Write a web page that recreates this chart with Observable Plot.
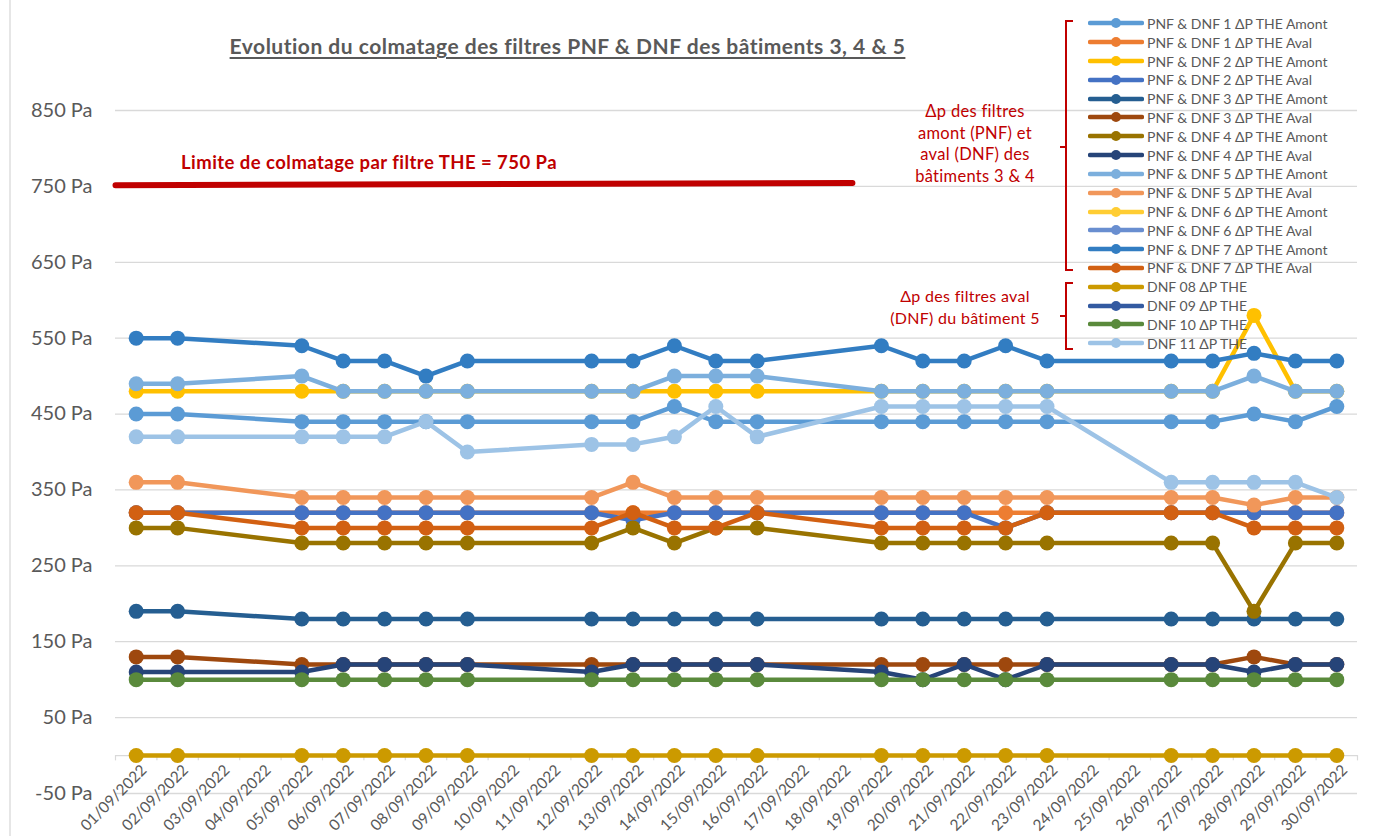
<!DOCTYPE html>
<html lang="fr">
<head>
<meta charset="utf-8">
<script src="https://cdn.jsdelivr.net/npm/d3@7"></script>
<script src="https://cdn.jsdelivr.net/npm/@observablehq/plot@0.6"></script>
<style>
  html, body { margin: 0; padding: 0; background: #fff; }
  #wrap { position: relative; width: 1377px; height: 836px; overflow: hidden; font-family: Lato, "Open Sans", sans-serif; }
  #wrap > svg.plot { position: absolute; left: 0; top: 0; }
  .abs { position: absolute; white-space: nowrap; }
  #title { left: 0; width: 1135px; top: 33px; text-align: center; font-size: 21px; letter-spacing: 0.5px; font-weight: bold; color: #595959; text-decoration: underline; text-underline-offset: 3px; }
  #limitText { left: 181px; top: 151px; font-size: 18.5px; letter-spacing: 0.45px; font-weight: bold; color: #C00000; }
  .note { color: #C00000; text-align: center; }
  #note1 { left: 875px; width: 200px; top: 101px; font-size: 16.5px; letter-spacing: 0.3px; line-height: 21.5px; }
  #note2 { left: 855px; width: 220px; top: 285px; font-size: 16px; letter-spacing: 0.3px; line-height: 22px; }
  #legend { left: 1088px; top: 14px; }
  .lrow { position: relative; height: 18.82px; display: flex; align-items: center; font-size: 14px; color: #595959; }
  .lrow svg { width: 56px; height: 14px; margin-right: 3px; flex: none; }
</style>
</head>
<body>
<div id="wrap"></div>
<script>
// ---------- data ----------
const days = [1, 2, 5, 6, 7, 8, 9, 12, 13, 14, 15, 16, 19, 20, 21, 22, 23, 26, 27, 28, 29, 30];

const dateLabels = ["01/09/2022","02/09/2022","03/09/2022","04/09/2022","05/09/2022","06/09/2022","07/09/2022","08/09/2022","09/09/2022","10/09/2022",
  "11/09/2022","12/09/2022","13/09/2022","14/09/2022","15/09/2022","16/09/2022","17/09/2022","18/09/2022","19/09/2022","20/09/2022",
  "21/09/2022","22/09/2022","23/09/2022","24/09/2022","25/09/2022","26/09/2022","27/09/2022","28/09/2022","29/09/2022","30/09/2022"];

const yTicks = [-50, 50, 150, 250, 350, 450, 550, 650, 750, 850];

const seriesNames = [
  "PNF & DNF 1 ΔP THE Amont", "PNF & DNF 1 ΔP THE Aval",
  "PNF & DNF 2 ΔP THE Amont", "PNF & DNF 2 ΔP THE Aval",
  "PNF & DNF 3 ΔP THE Amont", "PNF & DNF 3 ΔP THE Aval",
  "PNF & DNF 4 ΔP THE Amont", "PNF & DNF 4 ΔP THE Aval",
  "PNF & DNF 5 ΔP THE Amont", "PNF & DNF 5 ΔP THE Aval",
  "PNF & DNF 6 ΔP THE Amont", "PNF & DNF 6 ΔP THE Aval",
  "PNF & DNF 7 ΔP THE Amont", "PNF & DNF 7 ΔP THE Aval",
  "DNF 08 ΔP THE", "DNF 09 ΔP THE", "DNF 10 ΔP THE", "DNF 11 ΔP THE"
];

const seriesColors = [
  "#5B9BD5", "#ED7D31", "#FFC000", "#4472C4", "#255E91", "#9E480E",
  "#997300", "#264478", "#7CAFDD", "#F1975A", "#FFCD33", "#698ED0",
  "#327DC2", "#D26012", "#CC9A00", "#335AA1", "#5A8A3C", "#9DC3E6"
];

const pnf1Amont = [450,450,440,440,440,440,440,440,440,460,440,440,440,440,440,440,440,440,440,450,440,460];
const pnf1Aval  = [320,320,320,320,320,320,320,320,320,320,320,320,320,320,320,320,320,320,320,320,320,320];
const pnf2Amont = [480,480,480,480,480,480,480,480,480,480,480,480,480,480,480,480,480,480,480,580,480,480];
const pnf2Aval  = [320,320,320,320,320,320,320,320,310,320,320,320,320,320,320,300,320,320,320,320,320,320];
const pnf3Amont = [190,190,180,180,180,180,180,180,180,180,180,180,180,180,180,180,180,180,180,180,180,180];
const pnf3Aval  = [130,130,120,120,120,120,120,120,120,120,120,120,120,120,120,120,120,120,120,130,120,120];
const pnf4Amont = [300,300,280,280,280,280,280,280,300,280,300,300,280,280,280,280,280,280,280,190,280,280];
const pnf4Aval  = [110,110,110,120,120,120,120,110,120,120,120,120,110,100,120,100,120,120,120,110,120,120];
const pnf5Amont = [490,490,500,480,480,480,480,480,480,500,500,500,480,480,480,480,480,480,480,500,480,480];
const pnf5Aval  = [360,360,340,340,340,340,340,340,360,340,340,340,340,340,340,340,340,340,340,330,340,340];
const pnf6Amont = [];
const pnf6Aval  = [];
const pnf7Amont = [550,550,540,520,520,500,520,520,520,540,520,520,540,520,520,540,520,520,520,530,520,520];
const pnf7Aval  = [320,320,300,300,300,300,300,300,320,300,300,320,300,300,300,300,320,320,320,300,300,300];
const dnf08     = [0,0,0,0,0,0,0,0,0,0,0,0,0,0,0,0,0,0,0,0,0,0];
const dnf09     = [];
const dnf10     = [100,100,100,100,100,100,100,100,100,100,100,100,100,100,100,100,100,100,100,100,100,100];
const dnf11     = [420,420,420,420,420,440,400,410,410,420,460,420,460,460,460,460,460,360,360,360,360,340];

const seriesValues = [pnf1Amont, pnf1Aval, pnf2Amont, pnf2Aval, pnf3Amont, pnf3Aval, pnf4Amont, pnf4Aval,
  pnf5Amont, pnf5Aval, pnf6Amont, pnf6Aval, pnf7Amont, pnf7Aval, dnf08, dnf09, dnf10, dnf11];

// limit line (annotation drawn by hand in the original)
const limitX = [0.5, 18.3];
const limitY = [751.5, 754.5];

// ---------- build ----------
const dayIdx = d3.range(1, 31);
const bounds = d3.range(0.5, 31, 1);
const limitRows = limitX.map((x, i) => ({x, y: limitY[i]}));

const marks = [
  Plot.gridY(yTicks, {stroke: "#D9D9D9", strokeOpacity: 1, strokeWidth: 1.3}),
  Plot.axisY(yTicks, {tickSize: 0, tickPadding: 23, tickFormat: d => d + " Pa", fontSize: 20, color: "#595959", label: null}),
  Plot.ruleY([0], {stroke: "#D9D9D9", strokeWidth: 1.3}),
  Plot.ruleX(bounds, {x: d => d, y1: 0, y2: -7, stroke: "#D9D9D9", strokeWidth: 1.2}),
  Plot.text(dayIdx, {x: d => d, y: 0, text: d => dateLabels[d - 1], rotate: -45, textAnchor: "end", dx: 8, dy: 12, fontSize: 15.5, fill: "#595959"}),
  Plot.line(limitRows, {x: "x", y: "y", stroke: "#C00000", strokeWidth: 6})
];

seriesValues.forEach((vals, i) => {
  const rows = vals.map((v, j) => ({day: days[j], value: v})).filter(r => r.value != null);
  if (!rows.length) return;
  marks.push(Plot.line(rows, {x: "day", y: "value", stroke: seriesColors[i], strokeWidth: 4.5, strokeLinejoin: "round", strokeLinecap: "round"}));
  marks.push(Plot.dot(rows, {x: "day", y: "value", fill: seriesColors[i], r: 7.5}));
});

const chart = Plot.plot({
  width: 1377,
  height: 836,
  marginLeft: 115,
  marginRight: 20,
  marginTop: 110,
  marginBottom: 43,
  x: {domain: [0.5, 30.5], axis: null},
  y: {domain: [-50, 850], axis: null},
  style: {fontFamily: "Lato, 'Open Sans', sans-serif", background: "transparent", overflow: "visible"},
  marks
});
chart.classList.add("plot");
const wrap = document.getElementById("wrap");
wrap.appendChild(chart);

// left chart border and brackets
const ns = "http://www.w3.org/2000/svg";
const deco = document.createElementNS(ns, "svg");
deco.setAttribute("width", 1377); deco.setAttribute("height", 836);
deco.style.position = "absolute"; deco.style.left = "0"; deco.style.top = "0";
deco.innerHTML = `
  <line x1="10" y1="0" x2="10" y2="836" stroke="#D9D9D9" stroke-width="1.3"/>
  <path d="M1073,21 H1066 V270 H1073 M1066,147 H1060" fill="none" stroke="#C00000" stroke-width="2"/>
  <path d="M1073,283 H1066 V349 H1073 M1066,316 H1060" fill="none" stroke="#C00000" stroke-width="2"/>`;
wrap.appendChild(deco);

function addDiv(id, cls, html) {
  const el = document.createElement("div");
  el.id = id; el.className = cls; el.innerHTML = html;
  wrap.appendChild(el);
  return el;
}
addDiv("title", "abs", "Evolution du colmatage des filtres PNF &amp; DNF des bâtiments 3, 4 &amp; 5");
addDiv("limitText", "abs", "Limite de colmatage par filtre THE = 750 Pa");
addDiv("note1", "abs note", "Δp des filtres<br>amont (PNF) et<br>aval (DNF) des<br>bâtiments 3 &amp; 4");
addDiv("note2", "abs note", "Δp des filtres aval<br>(DNF) du bâtiment 5");

const legend = addDiv("legend", "abs", "");
seriesNames.forEach((name, i) => {
  const row = document.createElement("div");
  row.className = "lrow";
  row.innerHTML = `<svg viewBox="0 0 56 14"><line x1="2" y1="7" x2="54" y2="7" stroke="${seriesColors[i]}" stroke-width="4.5" stroke-linecap="round"/><circle cx="28" cy="7" r="5" fill="${seriesColors[i]}"/></svg><span>${name}</span>`;
  legend.appendChild(row);
});
</script>
</body>
</html>
